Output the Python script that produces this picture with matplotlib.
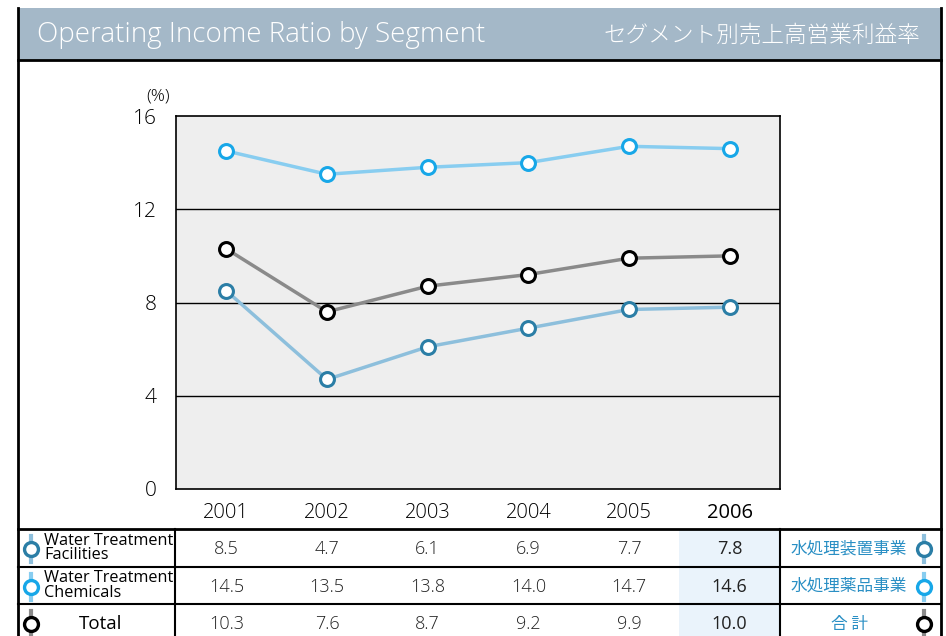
import matplotlib.pyplot as plt
import matplotlib.transforms as mtransforms
from matplotlib.patches import Rectangle

years = ["2001", "2002", "2003", "2004", "2005", "2006"]
facilities = [8.5, 4.7, 6.1, 6.9, 7.7, 7.8]
chemicals = [14.5, 13.5, 13.8, 14.0, 14.7, 14.6]
total = [10.3, 7.6, 8.7, 9.2, 9.9, 10.0]
yticks = [0, 4, 8, 12, 16]

row_names_en = ["Water Treatment\nFacilities", "Water Treatment\nChemicals", "Total"]
row_names_jp = ["水処理装置事業", "水処理薬品事業", "合 計"]

FONT = ["Open Sans", "DejaVu Sans"]
JP = ["Noto Sans CJK JP", "DejaVu Sans"]
plt.rcParams["font.family"] = FONT
plt.rcParams["font.weight"] = "light"

styles = [
    dict(line="#8dbfdc", edge="#2b7ea6"),
    dict(line="#88cdf0", edge="#17a7e8"),
    dict(line="#8a8a8a", edge="#000000"),
]
series = [facilities, chemicals, total]

W, H = 946, 636
fig = plt.figure(figsize=(W / 100, H / 100), dpi=100)

# background layer in pixel coordinates
bg = fig.add_axes([0, 0, 1, 1])
bg.set_xlim(0, W)
bg.set_ylim(H, 0)
bg.axis("off")

# title band
bg.add_patch(Rectangle((18, 8), 923, 52, facecolor="#a4b8c8", edgecolor="none"))
bg.plot([18, 941], [60, 60], color="black", lw=2)
bg.plot([18, 18], [8, H], color="black", lw=2)
bg.plot([941, 941], [8, H], color="black", lw=2)
bg.text(37, 35, "Operating Income Ratio by Segment", color="white",
        fontsize=20, va="center", ha="left", family=FONT)
bg.text(920, 35, "セグメント別売上高営業利益率", color="white",
        fontsize=16.3, va="center", ha="right", family=JP, weight="light")

# data axes
ax = fig.add_axes([176 / W, 1 - 489 / H, 604 / W, 373 / H])
ax.set_facecolor("#eeeeee")
x = list(range(len(years)))
for vals, st in zip(series, styles):
    ax.plot(x, vals, color=st["line"], lw=2.5, zorder=3)
    ax.plot(x, vals, ls="none", marker="o", ms=10, mfc="white",
            mec=st["edge"], mew=2.2, zorder=4)
ax.set_xlim(-0.5, 5.5)
ax.set_ylim(0, 16)
ax.set_yticks(yticks)
ax.set_yticklabels([str(t) for t in yticks], fontsize=15)
ax.set_xticks(x)
ax.set_xticklabels(years, fontsize=14.5)
ax.get_xticklabels()[-1].set_fontweight("normal")
ax.tick_params(length=0, pad=10)
ax.tick_params(axis="y", pad=14)
for yt in yticks[1:-1]:
    ax.axhline(yt, color="black", lw=1, zorder=1)
for sp in ax.spines.values():
    sp.set_linewidth(1.2)
ax.text(-0.01, 1.03, "(%)", transform=ax.transAxes, ha="right",
        va="bottom", fontsize=12.5)

# table below, x follows the data axis
tr = mtransforms.blended_transform_factory(ax.transData, bg.transData)
row_tops = [529, 567, 604, 642]
bg.add_patch(Rectangle((4.5, 529), 1.0, 120, transform=tr,
                       facecolor="#eaf3fb", edgecolor="none", zorder=0))
bg.plot([18, 941], [529, 529], color="black", lw=2)
for yy in row_tops[1:3]:
    bg.plot([18, 941], [yy, yy], color="black", lw=1.5)
bg.plot([175, 175], [529, H], color="black", lw=1.5)
bg.plot([780, 780], [529, H], color="black", lw=1.5)

for r, (vals, st) in enumerate(zip(series, styles)):
    yc = (row_tops[r] + row_tops[r + 1]) / 2 + 1
    if r == 2:
        yc = 624
    for i, v in enumerate(vals):
        bg.text(i, yc, f"{v:.1f}", transform=tr, ha="center", va="center",
                fontsize=13, weight="normal" if i == len(vals) - 1 else "light",
                color="#222222")
    if r < 2:
        bg.text(44, yc - 1, row_names_en[r], ha="left", va="center",
                fontsize=11.7, linespacing=0.86, weight="normal")
    else:
        bg.text(101, yc, row_names_en[r], ha="center", va="center",
                fontsize=13.5, weight="normal")
    bg.text(849, yc, row_names_jp[r], ha="center", va="center",
            fontsize=12, color="#2a8fc4", family=JP, weight="normal")
    for xi in (31, 924):
        bg.plot([xi, xi], [yc - 13, yc + 13], color=st["line"], lw=3)
        bg.plot([xi], [yc], marker="o", ms=10, mfc="white", mec=st["edge"],
                mew=2.4)

fig.savefig("out.png", dpi=100)
